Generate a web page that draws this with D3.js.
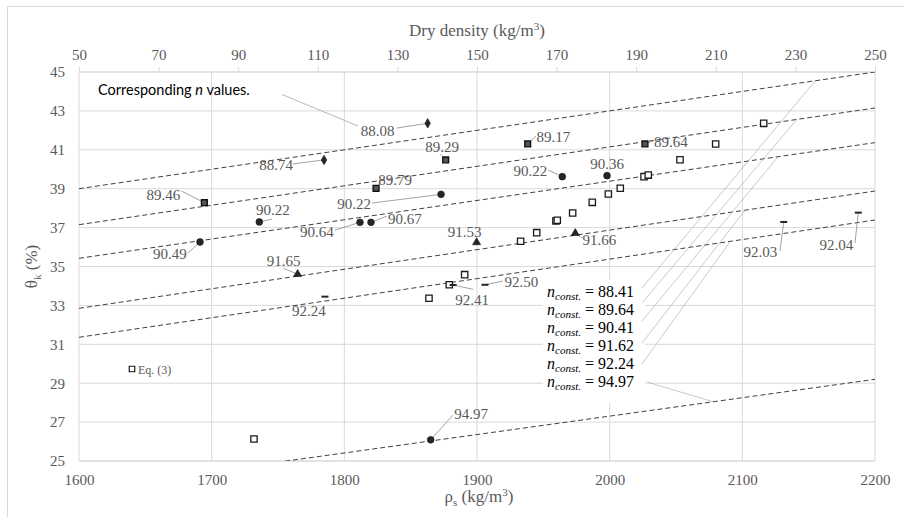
<!DOCTYPE html>
<html>
    <head>
        <meta charset="utf-8">
        <script src="https://d3js.org/d3.v7.min.js"></script>
    </head>
    <body style="margin:0">
        <script>
            // data
            var rhoTicks = [1600, 1700, 1800, 1900, 2000, 2100, 2200];
            var dryTicks = [50, 70, 90, 110, 130, 150, 170, 190, 210, 230, 250];
            var thetaTicks = [25, 27, 29, 31, 33, 35, 37, 39, 41, 43, 45];

            // lines of constant n: theta at rho = 1600 and rho = 2200
            var nConst = ["88.41", "89.64", "90.41", "91.62", "92.24", "94.97"];
            var nLineStart = [39.0, 37.15, 35.42, 32.85, 31.36, 23.52];
            var nLineEnd = [45.0, 43.15, 41.37, 38.88, 37.39, 29.2];
            // rho where each legend leader meets its line
            var nLeaderRho = [2155, 2141, 2127, 2102, 2091, 2078];

            var diamondRho = [1862.8, 1784.7];
            var diamondTheta = [42.36, 40.48];
            var diamondLabel = ["88.08", "88.74"];

            var squareRho = [1694.5, 1823.9, 1876.4, 1938.2, 2026.6];
            var squareTheta = [38.28, 39.02, 40.48, 41.30, 41.30];
            var squareLabel = ["89.46", "89.79", "89.29", "89.17", "89.64"];

            var circleRho = [1691.2, 1735.9, 1811.8, 1820.1, 1872.9, 1964.3, 1998.0, 1865.1];
            var circleTheta = [36.26, 37.29, 37.27, 37.27, 38.71, 39.62, 39.67, 26.09];
            var circleLabel = ["90.49", "90.22", "90.64", "90.67", "90.22", "90.22", "90.36", "94.97"];

            var triangleRho = [1764.8, 1899.7, 1974.1];
            var triangleTheta = [34.61, 36.24, 36.71];
            var triangleLabel = ["91.65", "91.53", "91.66"];

            var dashRho = [1785.4, 1882.0, 1906.0, 2131.2, 2187.4];
            var dashTheta = [33.45, 34.05, 34.06, 37.29, 37.77];
            var dashLabel = ["92.24", "92.41", "92.50", "92.03", "92.04"];

            var eqRho = [1731.9, 1863.8, 1879.1, 1890.7, 1932.9, 1945.0, 1959.5, 1960.5, 1972.1,
                         1986.9, 1999.0, 2008.0, 2025.9, 2029.1, 2053.0, 2079.9, 2116.1];
            var eqTheta = [26.13, 33.37, 34.06, 34.58, 36.30, 36.74, 37.34, 37.38, 37.75,
                           38.30, 38.73, 39.02, 39.62, 39.70, 40.49, 41.30, 42.36];

            // label placement: text offset [dx, dy] and leader end [lx, ly] from the marker, in px
            var diamondPos = [[-50, 12.7, -31, 4.7], [-48, 10.5, -31, 4]];
            var squarePos = [[-41, -2.7, -23, -11.7], [19, -3.3, 5, -6], [-3.5, -8, -5.5, -6],
                             [25.6, -1.5, 8.3, -8], [25.8, 3, 8, -3]];
            var circlePos = [[-30, 17, -12, 11], [13.5, -6.5, 13, -3], [-43, 14.7, -25, 7.7],
                             [34, 1.7, 16, -6.3], [-87, 14.7, -69, 8.7], [-32, -0.2, -14.3, -6.7],
                             [0, -6.7, null, null], [40.5, -20.7, 22.3, -24.7]];
            var trianglePos = [[-14, -8, -14.4, -5.7], [-12, -5.3, null, null], [24, 11.7, 6.7, 4.7]];
            var dashPos = [[-16, 19.3, null, null], [19, 20, 20, 4.3], [36.3, 2.3, 18, -3.7],
                           [-23.4, 35.5, -3.7, 29], [-22, 37.3, -3.3, 30.3]];

            // configuration code
            var outerWidth = 904;
            var outerHeight = 517;
            var margin = { left: 79, top: 72, right: 29, bottom: 56 };
            var innerWidth = outerWidth - margin.left - margin.right;
            var innerHeight = outerHeight - margin.top - margin.bottom;

            var serif = "Liberation Serif";
            var gridColor = "#d9d9d9";
            var textGray = "#595959";

            var svg = d3.select("body")
                .append("svg")
                .attr("width", outerWidth)
                .attr("height", outerHeight)
                .attr("font-family", serif);

            // chart frame
            svg.append("rect")
                .attr("x", 7.5).attr("y", 6.5)
                .attr("width", 920).attr("height", 530)
                .attr("fill", "none")
                .attr("stroke", gridColor);

            var g = svg.append("g")
                .attr("transform", "translate(" + margin.left + "," + margin.top + ")");

            var xScale = d3.scaleLinear().domain([1600, 2200]).range([0, innerWidth]);
            var x2Scale = d3.scaleLinear().domain([50, 250]).range([0, innerWidth]);
            var yScale = d3.scaleLinear().domain([25, 45]).range([innerHeight, 0]);

            // gridlines
            g.selectAll(".vgrid").data(rhoTicks).enter().append("line")
                .attr("class", "vgrid")
                .attr("x1", function (d) { return xScale(d); })
                .attr("x2", function (d) { return xScale(d); })
                .attr("y1", 0).attr("y2", innerHeight)
                .attr("stroke", gridColor);

            g.selectAll(".hgrid").data(thetaTicks).enter().append("line")
                .attr("class", "hgrid")
                .attr("x1", 0).attr("x2", innerWidth)
                .attr("y1", function (d) { return yScale(d); })
                .attr("y2", function (d) { return yScale(d); })
                .attr("stroke", gridColor)
                .attr("stroke-width", function (d) { return (d === 25 || d === 45) ? 1.6 : 1; });

            // axes
            var fmt = d3.format("d");
            var xAxis = d3.axisBottom(xScale).tickValues(rhoTicks).tickFormat(fmt).tickSize(0).tickPadding(13);
            var yAxis = d3.axisLeft(yScale).tickValues(thetaTicks).tickFormat(fmt).tickSize(0).tickPadding(14);
            var x2Axis = d3.axisTop(x2Scale).tickValues(dryTicks).tickFormat(fmt).tickSize(5).tickPadding(7);

            function styleAxis(sel) {
                sel.attr("font-family", serif).attr("font-size", 15);
                sel.select(".domain").remove();
                sel.selectAll("line").attr("stroke", gridColor);
                sel.selectAll("text").attr("fill", textGray);
            }

            g.append("g").attr("transform", "translate(0," + innerHeight + ")").call(xAxis).call(styleAxis);
            g.append("g").call(yAxis).call(styleAxis);
            g.append("g").call(x2Axis).call(styleAxis);

            // axis titles
            var topTitle = svg.append("text")
                .attr("x", margin.left + innerWidth / 2).attr("y", 36)
                .attr("text-anchor", "middle")
                .attr("fill", textGray)
                .attr("font-family", serif)
                .attr("font-size", 17);
            topTitle.append("tspan").text("Dry density (kg/m");
            topTitle.append("tspan").attr("dy", -6).attr("font-size", 11).text("3");
            topTitle.append("tspan").attr("dy", 6).text(")");

            var bottomTitle = svg.append("text")
                .attr("x", margin.left + innerWidth / 2 + 2).attr("y", 502)
                .attr("text-anchor", "middle")
                .attr("fill", textGray)
                .attr("font-family", serif)
                .attr("font-size", 17);
            bottomTitle.append("tspan").text("\u03c1");
            bottomTitle.append("tspan").attr("dy", 4).attr("font-size", 11).text("s");
            bottomTitle.append("tspan").attr("dy", -4).text(" (kg/m");
            bottomTitle.append("tspan").attr("dy", -6).attr("font-size", 11).text("3");
            bottomTitle.append("tspan").attr("dy", 6).text(")");

            var leftTitle = svg.append("text")
                .attr("transform", "translate(37," + (margin.top + innerHeight / 2) + ") rotate(-90)")
                .attr("text-anchor", "middle")
                .attr("fill", textGray)
                .attr("font-family", serif)
                .attr("font-size", 17);
            leftTitle.append("tspan").text("\u03b8");
            leftTitle.append("tspan").attr("dy", 4).attr("font-size", 11).text("k");
            leftTitle.append("tspan").attr("dy", -4).text(" (%)");

            // constant-n dashed lines, clipped to the plot
            g.append("clipPath").attr("id", "plotClip")
                .append("rect").attr("width", innerWidth).attr("height", innerHeight);

            var lineData = nConst.map(function (n, i) {
                return { n: n, y0: nLineStart[i], y1: nLineEnd[i], rho: nLeaderRho[i] };
            });

            function thetaOnLine(d, rho) {
                return d.y0 + (d.y1 - d.y0) * (rho - 1600) / 600;
            }

            g.append("g").attr("clip-path", "url(#plotClip)")
                .selectAll("line").data(lineData).enter().append("line")
                .attr("x1", xScale(1600)).attr("x2", xScale(2200))
                .attr("y1", function (d) { return yScale(d.y0); })
                .attr("y2", function (d) { return yScale(d.y1); })
                .attr("stroke", "#404040")
                .attr("stroke-width", 1)
                .attr("stroke-dasharray", "5,3");

            // n_const legend box with leaders to the lines
            var legendX = 547;
            var legendBase = [296.5, 315, 333, 351, 369, 387];
            var leaderStartY = [288, 303, 321, 343, 364, 382];

            svg.append("rect")
                .attr("x", 543).attr("y", 280)
                .attr("width", 102).attr("height", 123)
                .attr("fill", "#fff");

            svg.selectAll(".nleader").data(lineData).enter().append("line")
                .attr("class", "nleader")
                .attr("x1", function (d, i) { return i === 5 ? 647 : 642; })
                .attr("y1", function (d, i) { return leaderStartY[i]; })
                .attr("x2", function (d) { return margin.left + xScale(d.rho); })
                .attr("y2", function (d) { return margin.top + yScale(thetaOnLine(d, d.rho)); })
                .attr("stroke", "#a6a6a6")
                .attr("stroke-width", 0.6);

            var nLegend = svg.selectAll(".nlegend").data(lineData).enter().append("text")
                .attr("class", "nlegend")
                .attr("x", legendX)
                .attr("y", function (d, i) { return legendBase[i]; })
                .attr("fill", "#000")
                .attr("font-family", serif)
                .attr("font-size", 16);
            nLegend.append("tspan").attr("font-style", "italic").text("n");
            nLegend.append("tspan").attr("dy", 3).attr("font-style", "italic").attr("font-size", 11).text("const.");
            nLegend.append("tspan").attr("dy", -3).text(function (d) { return " = " + d.n; });

            // Eq. (3) open squares
            var square = d3.symbol().type(d3.symbolSquare);

            g.selectAll(".eq").data(eqRho).enter().append("path")
                .attr("class", "eq")
                .attr("transform", function (d, i) { return "translate(" + xScale(d) + "," + yScale(eqTheta[i]) + ")"; })
                .attr("d", square.size(40))
                .attr("fill", "#fff")
                .attr("stroke", "#1a1a1a")
                .attr("stroke-width", 1.3);

            // labelled series
            function makeSeries(rho, theta, labels, pos, kind) {
                return rho.map(function (r, i) {
                    return { rho: r, theta: theta[i], label: labels[i], pos: pos[i], kind: kind };
                });
            }

            var points = []
                .concat(makeSeries(diamondRho, diamondTheta, diamondLabel, diamondPos, "diamond"))
                .concat(makeSeries(squareRho, squareTheta, squareLabel, squarePos, "square"))
                .concat(makeSeries(circleRho, circleTheta, circleLabel, circlePos, "circle"))
                .concat(makeSeries(triangleRho, triangleTheta, triangleLabel, trianglePos, "triangle"))
                .concat(makeSeries(dashRho, dashTheta, dashLabel, dashPos, "dash"));

            points.forEach(function (d) {
                d.x = xScale(d.rho);
                d.y = yScale(d.theta);
            });

            // leader lines
            g.selectAll(".leader").data(points.filter(function (d) { return d.pos[2] !== null; }))
                .enter().append("line")
                .attr("class", "leader")
                .attr("x1", function (d) { return d.x; })
                .attr("y1", function (d) { return d.y; })
                .attr("x2", function (d) { return d.x + d.pos[2]; })
                .attr("y2", function (d) { return d.y + d.pos[3]; })
                .attr("stroke", "#8c8c8c")
                .attr("stroke-width", 0.8);

            var symbolFor = {
                diamond: d3.symbol().type(d3.symbolDiamond).size(26)(),
                square: d3.symbol().type(d3.symbolSquare).size(34)(),
                circle: d3.symbol().type(d3.symbolCircle).size(36)(),
                triangle: d3.symbol().type(d3.symbolTriangle).size(28)()
            };

            var markers = g.selectAll(".marker").data(points).enter().append("g")
                .attr("class", "marker")
                .attr("transform", function (d) { return "translate(" + d.x + "," + d.y + ")"; });

            markers.filter(function (d) { return d.kind !== "dash"; })
                .append("path")
                .attr("d", function (d) { return symbolFor[d.kind]; })
                .attr("fill", function (d) { return d.kind === "square" ? "#555" : "#262626"; })
                .attr("stroke", "#111")
                .attr("stroke-width", function (d) { return d.kind === "square" ? 1.4 : 0.6; });

            markers.filter(function (d) { return d.kind === "dash"; })
                .append("rect")
                .attr("x", -3.5).attr("y", -1)
                .attr("width", 7).attr("height", 2)
                .attr("fill", "#262626");

            // data labels
            g.selectAll(".dlabel").data(points).enter().append("text")
                .attr("class", "dlabel")
                .attr("x", function (d) { return d.x + d.pos[0]; })
                .attr("y", function (d) { return d.y + d.pos[1]; })
                .attr("text-anchor", "middle")
                .attr("fill", textGray)
                .attr("font-family", serif)
                .attr("font-size", 15)
                .text(function (d) { return d.label; });

            // note in the corner
            var note = svg.append("text")
                .attr("x", 98).attr("y", 95)
                .attr("fill", "#000")
                .attr("font-family", "Lato")
                .attr("font-size", 14.5);
            note.append("tspan").text("Corresponding ");
            note.append("tspan").attr("font-style", "italic").text("n");
            note.append("tspan").text(" values.");

            svg.append("line")
                .attr("x1", 282).attr("y1", 94.5)
                .attr("x2", 358).attr("y2", 126)
                .attr("stroke", "#a6a6a6")
                .attr("stroke-width", 0.8);

            // Eq. (3) legend
            svg.append("path")
                .attr("transform", "translate(132,369)")
                .attr("d", d3.symbol().type(d3.symbolSquare).size(30)())
                .attr("fill", "#fff")
                .attr("stroke", "#1a1a1a")
                .attr("stroke-width", 1.2);

            svg.append("text")
                .attr("x", 138).attr("y", 373.5)
                .attr("fill", textGray)
                .attr("font-family", serif)
                .attr("font-size", 12)
                .text("Eq. (3)");
        </script>
    </body>
</html>
